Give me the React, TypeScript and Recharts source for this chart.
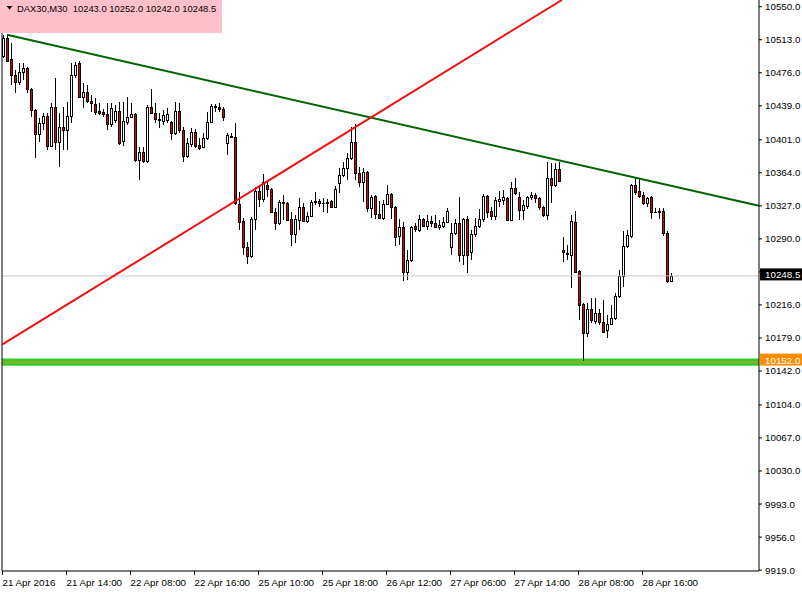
import { ComposedChart, Bar, XAxis, YAxis, ReferenceLine, ReferenceArea } from "recharts";

const symbol = "DAX30,M30";

// M30 bars from 21 Apr 2016
const opens = [
  10495.0, 10515.0, 10491.5, 10473.5, 10465.5, 10477.0, 10481.5, 10458.0, 10434.5, 10407.5,
  10419.5, 10427.5, 10394.0, 10437.5, 10398.5, 10415.5, 10412.0, 10427.5, 10473.5, 10487.0,
  10449.0, 10454.5, 10444.5, 10441.0, 10433.0, 10432.0, 10430.0, 10418.5, 10423.0, 10433.0,
  10399.5, 10421.0, 10426.5, 10430.0, 10378.5, 10387.5, 10377.0, 10437.5, 10431.0, 10424.0,
  10422.0, 10423.0, 10421.0, 10408.5, 10433.0, 10412.0, 10383.0, 10396.0, 10409.5, 10395.0,
  10393.0, 10403.0, 10421.0, 10437.5, 10437.5, 10435.5, 10397.5, 10405.0, 10404.0, 10329.0,
  10310.0, 10281.0, 10271.0, 10312.0, 10343.5, 10334.5, 10350.5, 10346.0, 10320.0, 10307.5,
  10331.5, 10330.0, 10312.0, 10295.5, 10311.0, 10325.5, 10310.0, 10315.5, 10331.5, 10332.5,
  10330.0, 10331.0, 10332.5, 10325.5, 10352.5, 10361.5, 10369.5, 10380.5, 10398.5, 10363.5,
  10353.5, 10365.0, 10324.5, 10338.0, 10318.0, 10313.5, 10329.0, 10340.0, 10325.5, 10293.0,
  10303.5, 10253.0, 10266.5, 10304.5, 10300.0, 10312.0, 10304.5, 10310.0, 10307.5, 10303.5,
  10304.5, 10309.0, 10281.0, 10296.5, 10307.5, 10272.0, 10312.0, 10275.5, 10295.5, 10304.5,
  10312.0, 10338.0, 10321.0, 10315.5, 10332.5, 10333.5, 10335.5, 10311.0, 10347.0, 10337.0,
  10322.5, 10327.0, 10337.0, 10339.0, 10335.5, 10325.5, 10316.5, 10358.0, 10350.5, 10368.0,
  10277.5, 10274.0, 10272.0, 10309.0, 10254.0, 10217.0, 10184.5, 10211.5, 10198.0, 10207.0,
  10197.0, 10188.0, 10194.5, 10201.5, 10226.0, 10248.5, 10282.0, 10293.0, 10350.5, 10343.5,
  10339.0, 10330.0, 10337.0, 10320.0, 10321.0, 10321.0, 10296.5, 10243.0,
];
const highs = [
  10518.5, 10518.5, 10509.5, 10479.0, 10487.0, 10487.0, 10482.5, 10459.0, 10435.5, 10425.5,
  10431.0, 10431.0, 10442.0, 10470.0, 10431.0, 10437.5, 10443.5, 10487.0, 10488.0, 10489.0,
  10464.5, 10462.5, 10451.0, 10447.5, 10442.0, 10435.5, 10442.0, 10442.0, 10440.0, 10443.5,
  10443.5, 10449.0, 10442.0, 10431.0, 10393.0, 10393.0, 10440.0, 10458.0, 10442.0, 10431.0,
  10434.5, 10436.5, 10422.0, 10443.5, 10442.0, 10415.5, 10403.0, 10414.0, 10413.0, 10403.0,
  10408.5, 10432.0, 10441.0, 10441.0, 10442.0, 10437.5, 10408.5, 10408.5, 10419.5, 10342.5,
  10313.5, 10286.5, 10314.5, 10348.0, 10350.5, 10362.5, 10356.0, 10347.0, 10324.5, 10333.5,
  10339.0, 10331.5, 10320.0, 10316.5, 10335.5, 10330.0, 10320.0, 10333.5, 10342.5, 10334.5,
  10335.5, 10334.5, 10333.5, 10349.0, 10369.5, 10376.0, 10386.0, 10415.5, 10418.5, 10370.5,
  10369.5, 10366.0, 10339.0, 10339.0, 10332.5, 10333.5, 10350.5, 10341.5, 10327.0, 10312.0,
  10309.0, 10277.5, 10304.5, 10307.5, 10316.5, 10313.5, 10316.5, 10315.5, 10316.5, 10311.0,
  10314.5, 10324.5, 10307.5, 10312.0, 10337.0, 10313.5, 10315.5, 10300.0, 10313.5, 10323.5,
  10340.0, 10339.0, 10325.5, 10337.0, 10343.5, 10344.5, 10337.0, 10353.5, 10358.0, 10342.5,
  10333.5, 10338.0, 10342.5, 10341.5, 10337.0, 10327.0, 10376.0, 10375.0, 10375.0, 10376.0,
  10292.0, 10283.0, 10316.5, 10321.0, 10255.0, 10218.0, 10218.0, 10223.5, 10223.5, 10211.5,
  10221.5, 10204.5, 10216.0, 10229.5, 10255.0, 10299.0, 10300.0, 10351.5, 10359.5, 10357.0,
  10342.5, 10337.0, 10338.0, 10324.5, 10324.5, 10324.5, 10299.0, 10252.0,
];
const lows = [
  10492.5, 10488.0, 10462.5, 10453.5, 10462.5, 10468.0, 10453.5, 10426.5, 10380.5, 10398.5,
  10412.0, 10389.5, 10393.0, 10389.5, 10370.5, 10389.5, 10389.5, 10419.5, 10470.0, 10447.5,
  10436.5, 10442.0, 10432.0, 10428.5, 10428.5, 10426.5, 10412.0, 10415.5, 10419.5, 10395.0,
  10394.0, 10417.5, 10425.5, 10376.0, 10356.0, 10375.0, 10375.0, 10430.0, 10419.5, 10414.0,
  10417.5, 10419.5, 10400.5, 10406.5, 10408.5, 10376.0, 10380.5, 10393.0, 10391.5, 10389.5,
  10391.5, 10400.5, 10419.5, 10432.0, 10432.0, 10422.0, 10384.0, 10403.0, 10328.0, 10300.0,
  10272.0, 10262.0, 10268.5, 10300.0, 10325.5, 10331.5, 10337.0, 10319.0, 10300.0, 10305.5,
  10311.0, 10310.0, 10282.0, 10285.5, 10300.0, 10309.0, 10307.5, 10314.5, 10328.0, 10325.5,
  10320.0, 10319.0, 10324.5, 10324.5, 10341.5, 10359.5, 10356.0, 10378.5, 10356.0, 10348.0,
  10331.5, 10320.0, 10313.5, 10312.0, 10312.0, 10311.0, 10328.0, 10312.0, 10282.0, 10283.0,
  10243.0, 10244.0, 10264.0, 10297.5, 10297.5, 10303.5, 10300.0, 10303.5, 10302.0, 10300.0,
  10302.0, 10307.5, 10272.0, 10294.5, 10264.0, 10260.5, 10251.5, 10266.5, 10292.0, 10302.0,
  10309.0, 10313.5, 10311.0, 10311.0, 10325.5, 10328.0, 10310.0, 10310.0, 10339.0, 10311.0,
  10311.0, 10323.5, 10333.5, 10330.0, 10322.5, 10314.5, 10311.0, 10330.0, 10348.0, 10353.5,
  10264.0, 10266.5, 10235.0, 10251.5, 10199.0, 10153.0, 10180.0, 10195.5, 10194.5, 10193.5,
  10184.5, 10179.0, 10193.5, 10199.0, 10223.5, 10236.0, 10279.5, 10291.0, 10339.0, 10335.5,
  10328.0, 10325.5, 10312.0, 10319.0, 10312.0, 10293.0, 10240.5, 10242.0,
];
const closes = [
  10515.0, 10489.0, 10473.5, 10465.5, 10477.0, 10481.5, 10458.0, 10434.5, 10407.5, 10419.5,
  10427.5, 10394.0, 10437.5, 10398.5, 10415.5, 10412.0, 10427.5, 10473.5, 10484.5, 10449.0,
  10454.5, 10444.5, 10442.0, 10432.0, 10431.0, 10430.0, 10418.5, 10436.5, 10433.0, 10397.5,
  10422.0, 10426.5, 10430.0, 10378.5, 10387.5, 10377.0, 10437.5, 10431.0, 10424.0, 10423.0,
  10428.5, 10430.0, 10408.5, 10433.0, 10412.0, 10383.0, 10397.5, 10409.5, 10394.0, 10391.5,
  10403.0, 10421.0, 10439.0, 10438.5, 10435.5, 10426.5, 10406.5, 10404.0, 10330.0, 10309.0,
  10281.0, 10271.0, 10312.0, 10343.5, 10334.5, 10353.5, 10346.0, 10320.0, 10307.5, 10331.5,
  10330.0, 10311.0, 10295.5, 10312.0, 10325.5, 10310.0, 10315.5, 10331.5, 10332.5, 10330.0,
  10330.5, 10330.5, 10325.5, 10346.0, 10361.5, 10369.5, 10380.5, 10398.5, 10363.5, 10353.5,
  10365.0, 10324.5, 10337.0, 10318.0, 10313.5, 10329.0, 10340.0, 10325.5, 10292.0, 10303.5,
  10253.0, 10266.5, 10303.5, 10301.0, 10312.0, 10304.5, 10310.0, 10307.5, 10303.5, 10305.5,
  10309.0, 10321.0, 10296.5, 10307.5, 10272.0, 10312.0, 10272.0, 10295.5, 10304.5, 10312.0,
  10338.0, 10320.0, 10315.5, 10333.5, 10334.5, 10337.0, 10311.0, 10347.0, 10341.5, 10322.5,
  10328.0, 10337.0, 10339.0, 10335.5, 10325.5, 10316.5, 10358.0, 10350.5, 10368.0, 10355.0,
  10275.5, 10273.5, 10310.0, 10253.0, 10216.0, 10184.5, 10211.5, 10199.0, 10207.0, 10197.0,
  10185.5, 10194.5, 10201.5, 10226.0, 10248.5, 10282.0, 10294.5, 10350.5, 10342.5, 10338.0,
  10330.0, 10335.5, 10320.0, 10320.5, 10320.5, 10296.5, 10243.0, 10248.5,
];

const timeTickBars = [0, 16, 32, 48, 64, 80, 96, 112, 128, 144, 160];
const timeTickLabels = [
  "21 Apr 2016", "21 Apr 14:00", "22 Apr 08:00", "22 Apr 16:00", "25 Apr 10:00", "25 Apr 18:00",
  "26 Apr 12:00", "27 Apr 06:00", "27 Apr 14:00", "28 Apr 08:00", "28 Apr 16:00",
];
const priceTicks = [
  9919, 9956, 9993, 10030, 10067, 10104, 10142, 10179, 10216, 10253, 10290, 10327, 10364, 10401,
  10439, 10476, 10513, 10550,
];

const supportLevel = 10152;
const greenTrend = [{ bar: 0.875, price: 10518.5 }, { bar: 188.875, price: 10327 }];
const redTrend = [{ bar: -0.375, price: 10171.5 }, { bar: 139.6, price: 10557.5 }];

const FONT = "'Liberation Sans', Arial, sans-serif";
const X_DOMAIN: [number, number] = [-0.375, 188.875];
const Y_DOMAIN: [number, number] = [9918, 10557.5];
const tickValues = timeTickBars.map((b) => b - 0.25);

const n = closes.length;
const candles = closes.map((c, i) => ({
  i,
  open: opens[i],
  high: highs[i],
  low: lows[i],
  close: c,
  range: [lows[i], highs[i]],
}));
const last = candles[n - 1];

function Candle(props: any) {
  const { x, y, width, height, payload } = props;
  if (!payload || height == null) return null;
  const { open, close, high, low } = payload;
  const top = Math.min(y, y + height);
  const h = Math.abs(height);
  const k = high > low ? h / (high - low) : 0;
  const cx = Math.floor(x + width / 2) + 0.5;
  const yOf = (p: number) => top + (high - p) * k;
  const bull = close >= open;
  const bTop = Math.round(yOf(Math.max(open, close))) + 0.5;
  const bBot = Math.round(yOf(Math.min(open, close))) + 0.5;
  return (
    <g>
      <line x1={cx} x2={cx} y1={Math.round(top)} y2={Math.round(top + h)} stroke="#000" strokeWidth={1} />
      {bBot - bTop < 1 ? (
        <line x1={cx - 1.5} x2={cx + 1.5} y1={bTop} y2={bTop} stroke="#000" strokeWidth={1} />
      ) : (
        <rect x={cx - 1} y={bTop} width={2} height={bBot - bTop} fill={bull ? "#ffffff" : "#e00000"} stroke="#000" strokeWidth={1} />
      )}
    </g>
  );
}

function TimeTick(props: any) {
  const { x, y, payload } = props;
  const idx = tickValues.findIndex((v) => Math.abs(v - payload.value) < 0.01);
  return (
    <text x={x} y={y + 8.5} fontSize={9.8} fontFamily={FONT} fill="#000">
      {idx >= 0 ? timeTickLabels[idx] : ""}
    </text>
  );
}

// scale label; the one sitting under the last-price tag only peeks out above it
function PriceTick(props: any) {
  const { x, y, payload } = props;
  const v = payload.value as number;
  const covered = Math.abs(v - last.close) < 8;
  const id = `tick-clip-${v}`;
  return (
    <g>
      {covered && (
        <clipPath id={id}>
          <rect x={x - 2} y={y - 12} width={50} height={10} />
        </clipPath>
      )}
      <text
        x={x}
        y={y}
        dy="0.355em"
        fontSize={9.8}
        fontFamily={FONT}
        fill="#000"
        clipPath={covered ? `url(#${id})` : undefined}
      >
        {v.toFixed(1)}
      </text>
    </g>
  );
}

// price tag drawn in the right-hand scale, level with its line
function PriceTag(props: any) {
  const { viewBox, text, bg, lift = 0 } = props;
  if (!viewBox) return null;
  const right = viewBox.x + viewBox.width;
  const y = viewBox.y - lift;
  return (
    <g>
      <rect x={right + 1} y={y - 7} width={43} height={12} fill={bg} />
      <text x={right + 6} y={y + 3} fontSize={9.8} fontFamily={FONT} fill="#fff">
        {text}
      </text>
    </g>
  );
}

export default function App() {
  const header = `${last.open.toFixed(1)} ${last.high.toFixed(1)} ${last.low.toFixed(1)} ${last.close.toFixed(1)}`;
  return (
    <div style={{ position: "absolute", left: 0, top: 0, width: 802, height: 592, background: "#fff" }}>
      <ComposedChart
        width={802}
        height={592}
        data={candles}
        margin={{ top: 0, right: 0, bottom: 0, left: 2 }}
      >
        <XAxis
          type="number"
          dataKey="i"
          domain={X_DOMAIN}
          allowDataOverflow
          ticks={tickValues}
          tick={<TimeTick />}
          tickSize={4}
          tickLine={{ stroke: "#000" }}
          axisLine={{ stroke: "#000" }}
          height={21}
          interval={0}
        />
        <YAxis
          orientation="right"
          type="number"
          domain={Y_DOMAIN}
          allowDataOverflow
          ticks={priceTicks}
          interval={0}
          tick={<PriceTick />}
          tickSize={3}
          tickMargin={3}
          tickLine={{ stroke: "#000" }}
          axisLine={{ stroke: "#000" }}
          width={43}
        />
        <ReferenceArea y1={supportLevel - 4} y2={supportLevel + 4} fill="#33cc33" fillOpacity={1} stroke="none" ifOverflow="visible" />
        <ReferenceLine
          y={supportLevel}
          stroke="#ff8c00"
          strokeWidth={1}
          label={<PriceTag text={supportLevel.toFixed(1)} bg="#ff8c00" lift={1.5} />}
        />
        <ReferenceLine
          y={last.close}
          stroke="#c8c8c8"
          strokeWidth={1}
          label={<PriceTag text={last.close.toFixed(1)} bg="#000" lift={0.5} />}
        />
        <ReferenceLine x={X_DOMAIN[0]} stroke="#000" strokeWidth={1} ifOverflow="visible" />
        <ReferenceLine
          segment={greenTrend.map((p) => ({ x: p.bar, y: p.price }))}
          stroke="#006400"
          strokeWidth={2}
          ifOverflow="visible"
        />
        <ReferenceLine
          segment={redTrend.map((p) => ({ x: p.bar, y: p.price }))}
          stroke="#ee1111"
          strokeWidth={2}
          ifOverflow="visible"
        />
        <Bar dataKey="range" barSize={3} shape={<Candle />} isAnimationActive={false} />
      </ComposedChart>
      <div
        style={{
          position: "absolute",
          left: 0,
          top: 0,
          width: 222,
          height: 33,
          background: "#ffc0cb",
          fontFamily: FONT,
          fontSize: 9.4,
          color: "#000",
        }}
      >
        <svg width={14} height={12} style={{ position: "absolute", left: 0, top: 0 }}>
          <polygon points="6.5,6 12.5,6 9.5,9.5" fill="#000" />
        </svg>
        <div style={{ position: "absolute", left: 17, top: 3, lineHeight: "12px", whiteSpace: "pre" }}>
          {`${symbol}  ${header}`}
        </div>
      </div>
    </div>
  );
}
